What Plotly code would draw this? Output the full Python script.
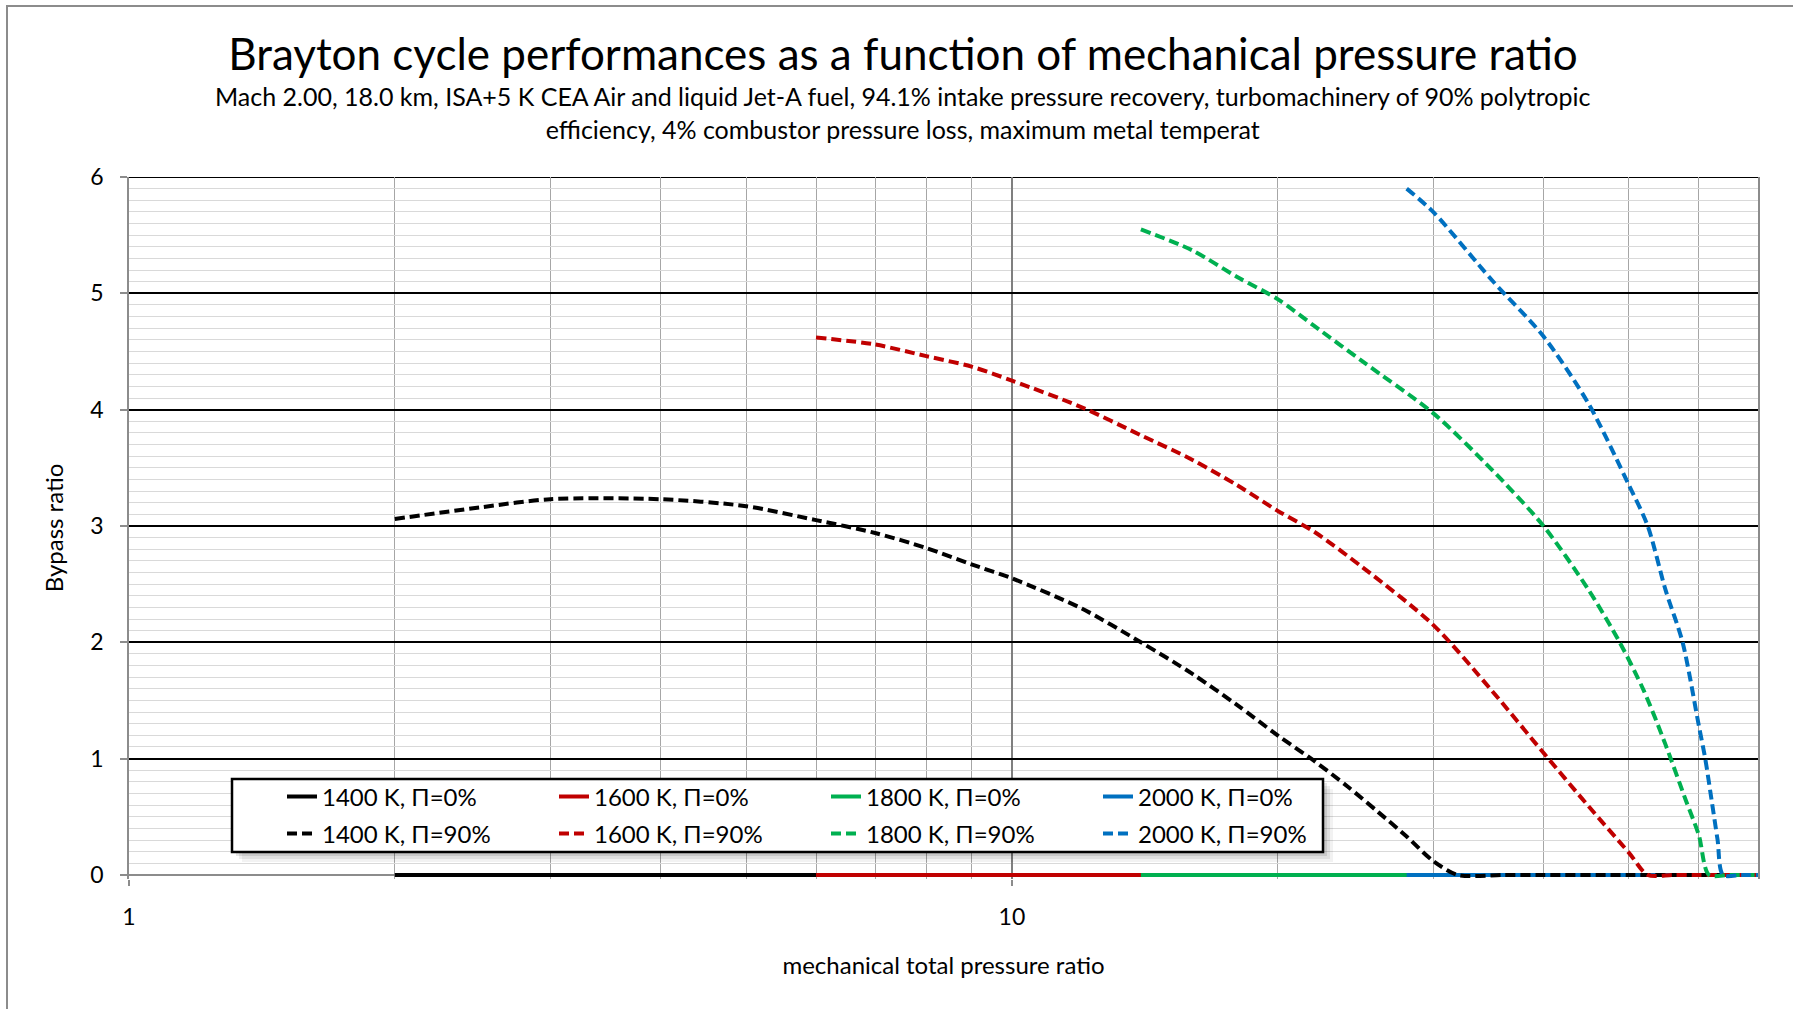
import numpy as np
import plotly.graph_objects as go

FONT = "Lato"

# ---------------- data ----------------
series_names_p0 = ["1400 K, Π=0%", "1600 K, Π=0%", "1800 K, Π=0%", "2000 K, Π=0%"]
series_names_p90 = ["1400 K, Π=90%", "1600 K, Π=90%", "1800 K, Π=90%", "2000 K, Π=90%"]
colors = ["#000000", "#C00000", "#00B050", "#0070C0"]

# Π = 0 % : bypass ratio stays at zero
x_1400_p0 = [2, 70]
y_1400_p0 = [0, 0]
x_1600_p0 = [6, 70]
y_1600_p0 = [0, 0]
x_1800_p0 = [14, 70]
y_1800_p0 = [0, 0]
x_2000_p0 = [28, 70]
y_2000_p0 = [0, 0]

# Π = 90 %
x_1400_p90 = [2, 2.5, 3, 4, 5, 6, 7, 8, 9, 10, 12, 14, 16, 18, 20, 22, 24, 26, 28, 30, 32, 36, 40, 50, 60, 70]
y_1400_p90 = [3.06, 3.16, 3.23, 3.23, 3.17, 3.05, 2.94, 2.81, 2.67, 2.55, 2.29, 2.0, 1.73, 1.46, 1.2,
              0.98, 0.76, 0.54, 0.33, 0.12, 0, 0, 0, 0, 0, 0]
x_1600_p90 = [6, 7, 8, 9, 10, 12, 14, 16, 18, 20, 22, 25, 30, 35, 40, 45, 50, 52.5, 56, 60, 65, 70]
y_1600_p90 = [4.62, 4.56, 4.46, 4.37, 4.25, 4.02, 3.78, 3.57, 3.35, 3.13, 2.95, 2.64, 2.15, 1.58,
              1.05, 0.59, 0.19, 0, 0, 0, 0, 0]
x_1800_p90 = [14, 16, 18, 20, 22, 25, 30, 35, 40, 45, 48.8, 52, 55, 58, 60, 61.6, 65, 70]
y_1800_p90 = [5.55, 5.37, 5.14, 4.95, 4.72, 4.41, 3.97, 3.48, 3.0, 2.45, 2.0, 1.58, 1.12, 0.64, 0.34, 0, 0, 0]
x_2000_p90 = [28, 30, 35, 40, 45, 50, 52.5, 55, 57.5, 60, 61, 62, 63, 63.9, 67, 70]
y_2000_p90 = [5.90, 5.70, 5.11, 4.63, 4.05, 3.35, 3.0, 2.45, 2.0, 1.28, 1.0, 0.65, 0.3, 0, 0, 0]

p0_x = [x_1400_p0, x_1600_p0, x_1800_p0, x_2000_p0]
p0_y = [y_1400_p0, y_1600_p0, y_1800_p0, y_2000_p0]
p90_x = [x_1400_p90, x_1600_p90, x_1800_p90, x_2000_p90]
p90_y = [y_1400_p90, y_1600_p90, y_1800_p90, y_2000_p90]

title_text = "Brayton cycle performances as a function of mechanical pressure ratio"
subtitle_text = ("Mach 2.00, 18.0 km, ISA+5 K CEA Air and liquid Jet-A fuel, 94.1% intake pressure recovery, "
                 "turbomachinery of 90% polytropic<br>efficiency, 4% combustor pressure loss, maximum metal temperat")
x_title = "mechanical total pressure ratio"
y_title = "Bypass ratio"
x_minor_vals = [2, 3, 4, 5, 6, 7, 8, 9, 20, 30, 40, 50, 60, 70]

# ---------------- layout geometry ----------------
W, H = 1793, 1009
ML, MR, MT, MB = 129, 35, 177, 130
PW, PH = W - ML - MR, H - MT - MB


def px_x(px):
    return (px - ML) / PW


def px_y(py):
    return (H - MB - py) / PH


fig = go.Figure()

for name, c, xs, ys in zip(series_names_p0, colors, p0_x, p0_y):
    fig.add_trace(go.Scatter(x=xs, y=ys, mode="lines", name=name, legend="legend",
                             line=dict(color=c, width=4)))

for name, c, xs, ys in zip(series_names_p90, colors, p90_x, p90_y):
    fig.add_trace(go.Scatter(x=xs, y=ys, mode="lines", name=name, legend="legend2",
                             line=dict(color=c, width=4, dash="10px,5px", shape="spline", smoothing=0.8)))

shapes = []
# top major gridline (y = 6)
shapes.append(dict(type="line", xref="paper", yref="y", x0=0, x1=1, y0=6, y1=6,
                   line=dict(color="#000000", width=2), layer="below"))
# chart-area border
shapes.append(dict(type="rect", xref="paper", yref="paper",
                   x0=px_x(7), x1=px_x(1800), y0=px_y(1020), y1=px_y(6),
                   line=dict(color="#8c8c8c", width=2), fillcolor="rgba(0,0,0,0)", layer="above"))
# legend shadow + box
bx0, bx1, by0, by1 = 232, 1323, 779, 852
for off, a in [(10, 0.05), (7, 0.07), (4, 0.10)]:
    shapes.append(dict(type="rect", xref="paper", yref="paper",
                       x0=px_x(bx0 + off), x1=px_x(bx1 + off), y0=px_y(by1 + off), y1=px_y(by0 + off),
                       line=dict(width=0), fillcolor=f"rgba(0,0,0,{a})", layer="above"))
shapes.append(dict(type="rect", xref="paper", yref="paper",
                   x0=px_x(bx0), x1=px_x(bx1), y0=px_y(by1), y1=px_y(by0),
                   line=dict(color="#000000", width=2.5), fillcolor="#ffffff", layer="above"))

legend_common = dict(orientation="h", xanchor="left", yanchor="middle",
                     bgcolor="rgba(0,0,0,0)", borderwidth=0, entrywidth=227, entrywidthmode="pixels",
                     font=dict(family=FONT, size=24, color="#000000"), itemwidth=30)

fig.update_layout(
    width=W, height=H,
    margin=dict(l=ML, r=MR, t=MT, b=MB),
    paper_bgcolor="#ffffff", plot_bgcolor="#ffffff",
    font=dict(family=FONT, color="#000000", size=20),
    title=dict(text=title_text, x=903 / W, xanchor="center", y=1 - 55 / H, yanchor="middle",
               font=dict(family=FONT, size=44, color="#000000")),
    shapes=shapes,
    annotations=[dict(text=subtitle_text, xref="paper", yref="paper", x=px_x(903), y=px_y(112),
                      xanchor="center", yanchor="middle", showarrow=False,
                      font=dict(family=FONT, size=25, color="#000000"))],
    legend=dict(x=px_x(282), y=px_y(797), **legend_common),
    legend2=dict(x=px_x(282), y=px_y(834), **legend_common),
    xaxis=dict(type="log", range=[0, np.log10(70)], tickvals=[1, 10], ticktext=["1", "10"],
               showgrid=True, gridcolor="#7f7f7f", gridwidth=1.5,
               minor=dict(tickvals=x_minor_vals, showgrid=True, gridcolor="#a6a6a6", gridwidth=1, ticks=""),
               ticks="outside", ticklen=6, tickcolor="#8c8c8c", tickwidth=1.5,
               ticklabelstandoff=11, tickfont=dict(family=FONT, size=23),
               showline=False, zeroline=False,
               title=dict(text=x_title, standoff=28, font=dict(family=FONT, size=24))),
    yaxis=dict(range=[-0.035, 6], tick0=0, dtick=1, showgrid=True, gridcolor="#000000", gridwidth=2,
               minor=dict(tick0=0, dtick=0.1, showgrid=True, gridcolor="#d9d9d9", gridwidth=1.2, ticks=""),
               ticks="outside", ticklen=7, tickcolor="#8c8c8c", tickwidth=1.5,
               ticklabelstandoff=12, tickfont=dict(family=FONT, size=23),
               showline=True, linecolor="#8c8c8c", linewidth=1.5, mirror=True,
               zeroline=True, zerolinecolor="#8c8c8c", zerolinewidth=2,
               title=dict(text=y_title, standoff=20, font=dict(family=FONT, size=24))),
)

fig.write_html("out.html")
